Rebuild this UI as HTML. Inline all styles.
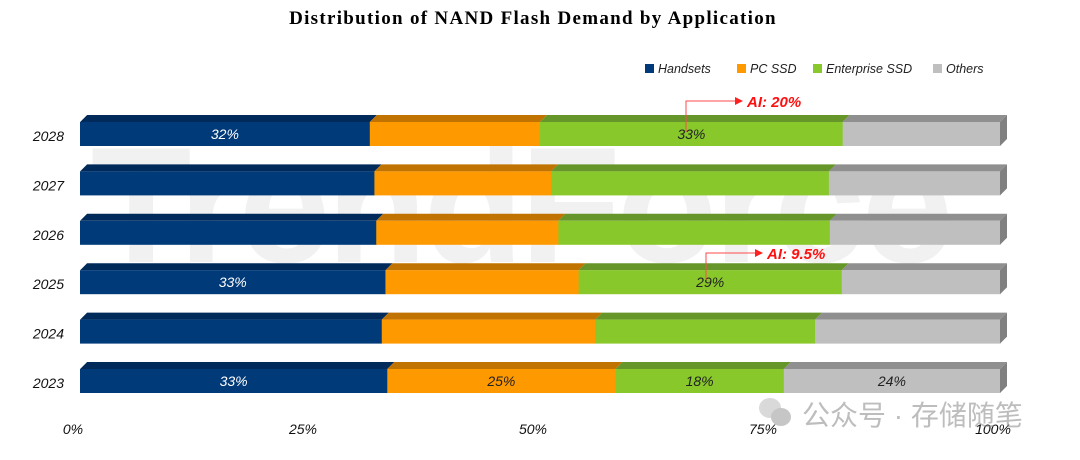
<!DOCTYPE html>
<html><head><meta charset="utf-8"><style>
body{margin:0;background:#fff;}
svg{display:block;font-family:"Liberation Sans","Noto Sans CJK SC",sans-serif;}
</style></head><body>
<svg id="chart" width="1080" height="460" viewBox="0 0 1080 460">
<text x="533" y="24" text-anchor="middle" font-family="'Liberation Serif',serif" font-weight="bold" font-size="19" fill="#000" letter-spacing="1.3">Distribution of NAND Flash Demand by Application</text>
<g id="legend"></g>
<text x="520" y="262" text-anchor="middle" font-weight="bold" font-size="165" fill="#d8d8d8" opacity="0.35" letter-spacing="-4">TrendForce</text>
<g id="bars"></g>
<g id="xaxis"></g>
<g>
<polyline points="686,132 686,101 735,101" fill="none" stroke="#ff4a4a" stroke-width="1"/>
<polygon points="735,97 743,101 735,105" fill="#ff2020"/>
<text x="747" y="107" font-weight="bold" font-style="italic" font-size="15" fill="#ff1010">AI: 20%</text>
</g>
<g>
<polyline points="706,280 706,253 755,253" fill="none" stroke="#ff4a4a" stroke-width="1"/>
<polygon points="755,249 763,253 755,257" fill="#ff2020"/>
<text x="767" y="259" font-weight="bold" font-style="italic" font-size="15" fill="#ff1010">AI: 9.5%</text>
</g>
<g opacity="0.55">
<ellipse cx="770" cy="408" rx="11" ry="10" fill="#bbb"/>
<ellipse cx="781" cy="417" rx="10" ry="9" fill="#999"/>
<text x="802" y="425" font-size="28" fill="#888">公众号 · 存储随笔</text>
</g>
</svg>
<script>
const years=['2028','2027','2026','2025','2024','2023'];
const handsets=[31.5,32,32.2,33.2,32.8,33.4];
const pcssd=[18.5,19.2,19.8,21,23.2,24.8];
const enterprise=[32.9,30.2,29.5,28.6,23.9,18.3];
const others=[17.1,18.6,18.5,17.2,20.1,23.5];
const labelsH=['32%','','','33%','','33%'];
const labelsP=['','','','','','25%'];
const labelsE=['33%','','','29%','','18%'];
const labelsO=['','','','','','24%'];
const ticks=[0,25,50,75,100];
const tickLabels=['0%','25%','50%','75%','100%'];
const seriesNames=['Handsets','PC SSD','Enterprise SSD','Others'];

const NS='http://www.w3.org/2000/svg';
const x0=80,x1=1000;
const xs=v=>x0+(x1-x0)*v/100;
const rowTop=i=>122+i*49.4;
const bh=24,d=7;
const front=['#003a78','#ff9900','#88c82a','#bfbfbf'];
const topc=['#002a5a','#c07300','#66962a','#8f8f8f'];
const txtc=['#fff','#222','#222','#222'];
function mk(tag,attrs,parent){const e=document.createElementNS(NS,tag);for(const k in attrs)e.setAttribute(k,attrs[k]);parent.appendChild(e);return e;}
const bars=document.getElementById('bars');
const series=[handsets,pcssd,enterprise,others];
const lbls=[labelsH,labelsP,labelsE,labelsO];
years.forEach((y,i)=>{
  const t=rowTop(i);
  const g=mk('g',{},bars);
  
  
  const yl=mk('text',{x:64,y:t+bh/2+7,'text-anchor':'end','font-size':14,'font-style':'italic',fill:'#111'},g);
  yl.textContent=y;
  
  
  let acc=0;
  const total=series.reduce((s,a)=>s+a[i],0);
  series.forEach((arr,k)=>{
    const a=xs(acc/total*100),b=xs((acc+arr[i])/total*100);
    acc+=arr[i];
    const tp=mk('polygon',{points:`${a},${t} ${a+d},${t-d} ${b+d},${t-d} ${b},${t}`,fill:topc[k]},g);
    
    
    const r=mk('rect',{x:a,y:t,width:b-a+0.5,height:bh,fill:front[k]},g);
    
    
    if(lbls[k][i]){
      const tx=mk('text',{x:(a+b)/2,y:t+bh/2+5,'text-anchor':'middle','font-size':14,'font-style':'italic',fill:txtc[k]},g);
      tx.textContent=lbls[k][i];
      
      
    }
  });
  const side=mk('polygon',{points:`${x1},${t} ${x1+d},${t-d} ${x1+d},${t+bh-d} ${x1},${t+bh}`,fill:'#808080'},g);
  
  
  const ch=mk('polygon',{points:`${x0},${t} ${x0},${t-d} ${x0+d},${t-d}`,fill:'#fff'},g);
  
  
});
const xa=document.getElementById('xaxis');
ticks.forEach((v,i)=>{
  const t=mk('text',{x:xs(v)-7,y:434,'text-anchor':'middle','font-size':14,'font-style':'italic',fill:'#111'},xa);
  t.textContent=tickLabels[i];
  
  
});
const lg=document.getElementById('legend');
const lx=[645,737,813,933];
seriesNames.forEach((n,k)=>{
  const r=mk('rect',{x:lx[k],y:64,width:9,height:9,fill:front[k]},lg);
  
  
  const t=mk('text',{x:lx[k]+13,y:73,'font-size':12.5,'font-style':'italic',fill:'#222'},lg);
  t.textContent=n;
  
  
});
</script>
</body></html>
